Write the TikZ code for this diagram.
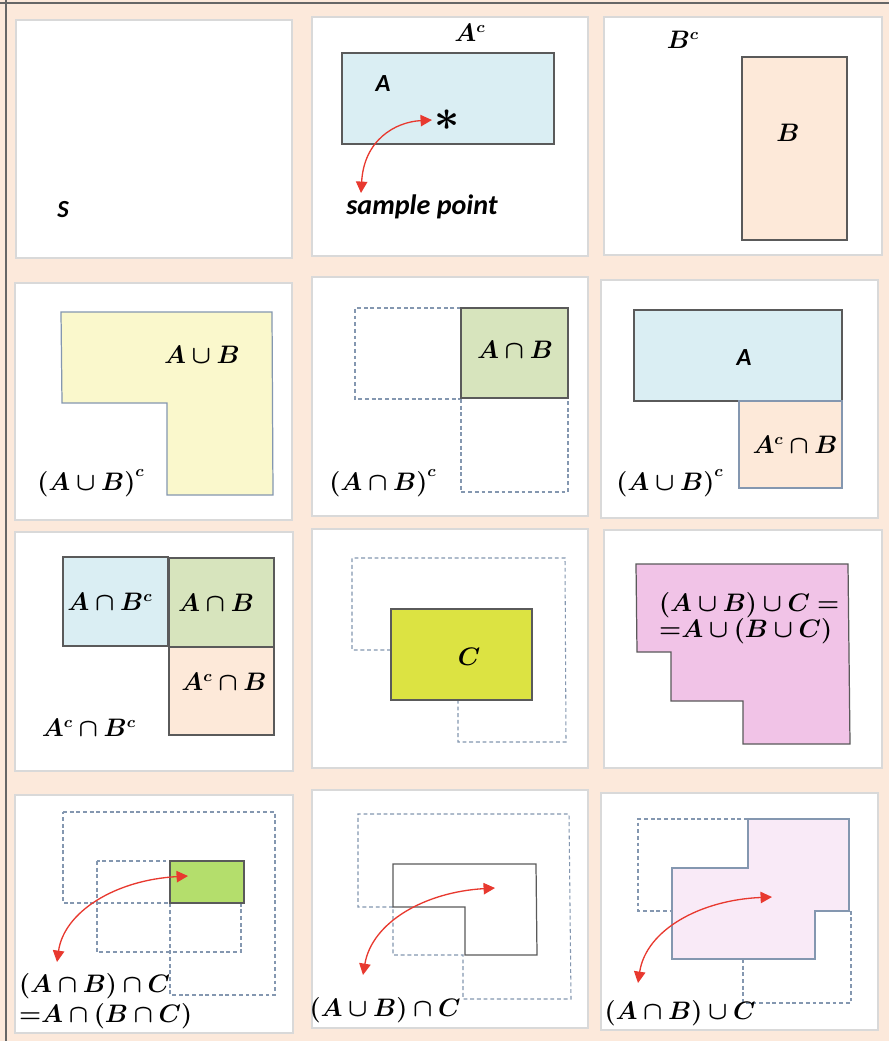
\documentclass[tikz,border=0pt]{standalone}
\usepackage{fontspec}
\usepackage{amsmath,bm}
\usepackage{tikz}
\usetikzlibrary{arrows.meta}
\newfontfamily\carlito{Carlito}
\definecolor{bgpeach}{HTML}{FCE9DB}
\definecolor{boxpeach}{HTML}{FDE9D9}
\definecolor{lblue}{HTML}{DAEEF3}
\definecolor{lyellow}{HTML}{FAF8CC}
\definecolor{olivegr}{HTML}{D7E4BD}
\definecolor{cyellow}{HTML}{DCE342}
\definecolor{orchid}{HTML}{F1C3E7}
\definecolor{brightgr}{HTML}{B4DE6C}
\definecolor{lpink}{HTML}{F9EAF7}
\definecolor{dashc}{HTML}{8497B0}
\definecolor{edgec}{HTML}{5A5A5A}
\definecolor{arrred}{HTML}{E8392F}

\begin{document}
\begin{tikzpicture}[x=0.02cm,y=-0.02cm,
   panel/.style={draw=black!15,fill=white,line width=0.6pt},
   setbox/.style={draw=edgec,line width=0.7pt},
   bluebox/.style={draw=dashc,line width=0.7pt},
   hidden/.style={draw=dashc,line width=0.6pt,dash pattern=on 2.2pt off 1.6pt},
   redarr/.style={arrred,line width=0.75pt,{Triangle[length=6.5pt,width=6.5pt]}-{Triangle[length=6.5pt,width=6.5pt]}},
   mlab/.style={font=\fontsize{13.5}{16}\selectfont,inner sep=1pt},
   slab/.style={font=\fontsize{14}{16}\selectfont\carlito\bfseries\itshape,inner sep=1pt}]
  % background and frame
  \useasboundingbox[fill=bgpeach] (0,0) rectangle (889,1041);
  \draw[black!60,line width=0.8pt] (0,3) -- (889,3);
  \draw[black!60,line width=0.8pt] (6,0) -- (6,1041);
  % white panels
  \foreach \l/\t/\r/\b in {16/20/292/258, 312/17/588/256, 604/17/882/255,
      15/283/292/520, 312/277/588/516, 601/280/878/518,
      15/532/293/771, 312/529/588/768, 604/530/882/768,
      15/795/293/1033, 312/790/588/1028, 601/793/878/1030}
    \draw[panel] (\l,\t) rectangle (\r,\b);

  % row 1: S, A, B
  \node[slab] (lblS) at (63,210) {S};
  \draw[setbox,fill=lblue] (342,53) rectangle (554,144);
  \node[mlab] (lblAc) at (470,33) {$\bm{A^c}$};
  \node[slab] (lblA) at (383,84) {A};
  \node[inner sep=0pt,font=\fontsize{24}{24}\selectfont] (star) at (447,120) {$\bm{\ast}$};
  \node[slab,font=\fontsize{16}{18}\selectfont\carlito\bfseries\itshape] (lblsp) at (422,207) {sample point};
  \coordinate (sp1) at (432,120);
  \coordinate (sp2) at (361,193);
  \draw[redarr] (sp1) .. controls (395,122) and (364,140) .. (sp2);
  \draw[setbox,fill=boxpeach] (742,57) rectangle (847,240);
  \node[mlab] (lblBc) at (683,40) {$\bm{B^c}$};
  \node[mlab] (lblB) at (788,133) {$\bm{B}$};

  % row 2: union, intersection, disjoint split
  \draw[bluebox,fill=lyellow] (61,312) -- (272,312) -- (273,495) -- (167,495) -- (167,403) -- (62,403) -- cycle;
  \node[mlab] (lblAuB) at (202,355) {$\bm{A\cup B}$};
  \node[mlab] (lblAuBc) at (91,483) {$\bm{(A\cup B)^c}$};
  \draw[hidden] (461,308) -- (355,308) -- (355,399) -- (461,399);
  \draw[hidden] (461,399) -- (461,492) -- (568,492) -- (568,398);
  \draw[setbox,fill=olivegr] (461,308) rectangle (568,398);
  \node[mlab] (lblAnB) at (515,350) {$\bm{A\cap B}$};
  \node[mlab] (lblAnBc) at (383,483) {$\bm{(A\cap B)^c}$};
  \draw[setbox,fill=lblue] (634,310) rectangle (842,401);
  \draw[bluebox,fill=boxpeach] (739,401) rectangle (842,488);
  \node[slab] (lblA6) at (744,358) {A};
  \node[mlab] (lblAcnB) at (795,445) {$\bm{A^c\cap B}$};
  \node[mlab] (lblAuBc6) at (670,483) {$\bm{(A\cup B)^c}$};

  % row 3: four parts, C, associative union
  \draw[setbox,fill=lblue] (63,557) rectangle (168,646);
  \draw[setbox,fill=olivegr] (169,558) rectangle (274,647);
  \draw[setbox,fill=boxpeach] (169,647) rectangle (274,735);
  \node[mlab] (lblAnBc7) at (110,602) {$\bm{A\cap B^c}$};
  \node[mlab] (lblAnB7) at (216,603) {$\bm{A\cap B}$};
  \node[mlab] (lblAcnB7) at (224,682) {$\bm{A^c\cap B}$};
  \node[mlab] (lblAcnBc7) at (89,728) {$\bm{A^c\cap B^c}$};
  \draw[hidden] (391,650) -- (352,650) -- (352,558) -- (565,558) -- (566,742) -- (458,742) -- (458,700);
  \draw[setbox,fill=cyellow] (391,609) rectangle (532,700);
  \node[mlab] (lblC) at (469,657) {$\bm{C}$};
  \draw[setbox,fill=orchid] (636,564) -- (848,564) -- (850,744) -- (743,744) -- (743,701)
     -- (671,701) -- (671,652) -- (637,652) -- cycle;
  \node[mlab,anchor=west,align=left] (lblassoc) at (657,618)
     {$\bm{(A\cup B)\cup C =}$\\[-1pt]$\bm{{=}A\cup(B\cup C)}$};

  % row 4: mixed operations
  \draw[hidden] (63,812) -- (275,812) -- (275,995) -- (170,995) -- (170,903) -- (63,903) -- cycle;
  \draw[hidden] (97,861) rectangle (241,952);
  \draw[setbox,fill=brightgr] (170,861) rectangle (244,903);
  \node[mlab,anchor=west,align=left] (lblint) at (17,1001)
     {$\bm{(A\cap B)\cap C}$\\[1pt]$\bm{{=}A\cap(B\cap C)}$};
  \coordinate (ia1) at (188,876);
  \coordinate (ia2) at (57,962);
  \draw[redarr] (ia1) .. controls (115,880) and (64,912) .. (ia2);
  \draw[hidden] (393,907) -- (358,907) -- (358,814) -- (569,814) -- (571,999) -- (463,999)
     -- (463,955) -- (393,955) -- cycle;
  \draw[setbox] (393,864) -- (536,864) -- (537,955) -- (465,955) -- (465,907) -- (393,907) -- cycle;
  \node[mlab] (lblmix1) at (385,1010) {$\bm{(A\cup B)\cap C}$};
  \coordinate (ma1) at (495,888);
  \coordinate (ma2) at (363,975);
  \draw[redarr] (ma1) .. controls (425,892) and (372,922) .. (ma2);
  \draw[hidden] (748,819) -- (638,819) -- (638,911) -- (672,911);
  \draw[hidden] (743,959) -- (743,1003) -- (851,1003) -- (851,911);
  \draw[bluebox,fill=lpink] (748,819) -- (849,819) -- (849,911) -- (815,911) -- (815,959)
     -- (672,959) -- (672,868) -- (748,868) -- cycle;
  \node[mlab] (lblmix2) at (680,1013) {$\bm{(A\cap B)\cup C}$};
  \coordinate (na1) at (772,897);
  \coordinate (na2) at (638,983);
  \draw[redarr] (na1) .. controls (700,900) and (646,930) .. (na2);
\end{tikzpicture}
\end{document}
